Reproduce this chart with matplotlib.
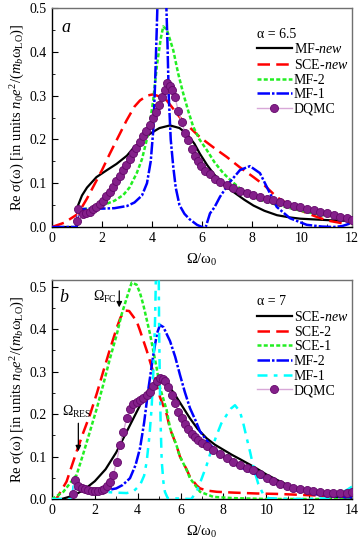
import matplotlib
matplotlib.use("Agg")
import matplotlib.pyplot as plt
from matplotlib.ticker import MultipleLocator

plt.rcParams['font.family'] = ['Liberation Serif', 'DejaVu Serif']
plt.rcParams['mathtext.fontset'] = 'custom'
plt.rcParams['mathtext.rm'] = 'Liberation Serif'
plt.rcParams['mathtext.it'] = 'Liberation Serif:italic'
plt.rcParams['font.size'] = 10

# ---- panel a, alpha = 6.5 ----
a_mfnew_x = [0, 0.98, 1.04, 1.2, 1.4, 1.78, 2.2, 2.58, 3.0, 3.25, 3.6, 3.92, 4.3, 4.72, 5.1, 5.39, 5.7, 5.92, 6.2, 6.46, 6.8, 7.26, 7.7, 8.06, 8.5, 9.0, 9.5, 9.93, 10.6, 11.27, 12]
a_mfnew_y = [0, 0, 0.049, 0.072, 0.09, 0.114, 0.13, 0.144, 0.163, 0.18, 0.197, 0.213, 0.226, 0.232, 0.226, 0.213, 0.19, 0.167, 0.142, 0.122, 0.1, 0.08, 0.062, 0.049, 0.037, 0.027, 0.022, 0.019, 0.017, 0.015, 0.014]

a_scenew_x = [0, 0.5, 1.04, 1.4, 1.78, 2.0, 2.31, 2.6, 2.98, 3.3, 3.52, 3.8, 4.05, 4.3, 4.59, 4.85, 5.12, 5.5, 5.92, 6.5, 6.99, 7.5, 8.06, 8.5, 9.0, 9.5, 9.93, 10.5, 11.0, 11.67, 12]
a_scenew_y = [0, 0.01, 0.03, 0.065, 0.106, 0.13, 0.167, 0.2, 0.243, 0.275, 0.289, 0.3, 0.303, 0.298, 0.289, 0.27, 0.25, 0.228, 0.205, 0.18, 0.16, 0.137, 0.114, 0.095, 0.068, 0.05, 0.038, 0.025, 0.015, 0.008, 0.011]

a_mf2_x = [1.0, 1.5, 1.9, 2.05, 2.5, 2.85, 3.1, 3.39, 3.6, 3.79, 3.95, 4.05, 4.2, 4.35, 4.45, 4.6, 4.85, 5.05, 5.25, 5.45, 5.65, 5.9, 6.19, 6.5, 6.85, 7.2, 7.52, 7.92, 8.32, 8.85, 9.52, 10.2, 10.85, 11.4, 11.92]
a_mf2_y = [0.04, 0.042, 0.044, 0.05, 0.06, 0.073, 0.09, 0.123, 0.155, 0.199, 0.25, 0.29, 0.37, 0.43, 0.458, 0.45, 0.404, 0.35, 0.305, 0.265, 0.229, 0.2, 0.176, 0.148, 0.123, 0.104, 0.088, 0.073, 0.062, 0.053, 0.043, 0.034, 0.027, 0.023, 0.02]

a_mf1_x = [0, 0.98, 1.05, 1.5, 2.0, 2.5, 3.0, 3.3, 3.6, 3.8, 3.95, 4.05, 4.12, 4.19, 4.24, 4.55, 4.62, 4.67, 4.75, 4.85, 4.95, 5.1, 5.3, 5.5, 5.8, 6.0, 6.15, 6.32, 6.5, 6.72, 7.12, 7.52, 7.92, 8.32, 8.65, 8.99, 9.52, 10.19, 10.8, 11.25, 11.6, 11.92]
a_mf1_y = [0, 0, 0.04, 0.042, 0.042, 0.043, 0.048, 0.056, 0.072, 0.1, 0.15, 0.22, 0.32, 0.45, 0.55, 0.55, 0.42, 0.3, 0.2, 0.138, 0.09, 0.05, 0.03, 0.018, 0.005, 0.0, 0.0, 0.031, 0.045, 0.069, 0.103, 0.13, 0.139, 0.123, 0.085, 0.046, 0.02, 0.005, 0.001, 0.0, 0.002, 0.008]

a_dqmc_x = [1.0, 1.04, 1.24, 1.38, 1.51, 1.65, 1.78, 1.92, 2.05, 2.18, 2.32, 2.45, 2.58, 2.72, 2.85, 2.98, 3.12, 3.25, 3.38, 3.52, 3.65, 3.78, 3.92, 4.05, 4.18, 4.3, 4.42, 4.52, 4.62, 4.72, 4.82, 4.92, 5.05, 5.19, 5.32, 5.45, 5.59, 5.72, 5.85, 5.98, 6.12, 6.32, 6.52, 6.72, 6.99, 7.26, 7.53, 7.79, 8.06, 8.33, 8.6, 8.86, 9.13, 9.4, 9.67, 9.93, 10.2, 10.47, 10.74, 11.0, 11.27, 11.54, 11.8, 12.0]
a_dqmc_y = [0.013, 0.04, 0.03, 0.031, 0.034, 0.04, 0.046, 0.052, 0.06, 0.07, 0.08, 0.092, 0.104, 0.117, 0.13, 0.142, 0.155, 0.168, 0.181, 0.194, 0.207, 0.22, 0.234, 0.248, 0.262, 0.278, 0.296, 0.313, 0.328, 0.323, 0.313, 0.296, 0.266, 0.239, 0.215, 0.198, 0.179, 0.162, 0.15, 0.14, 0.129, 0.12, 0.11, 0.103, 0.095, 0.088, 0.082, 0.077, 0.073, 0.069, 0.065, 0.061, 0.057, 0.053, 0.049, 0.046, 0.042, 0.038, 0.034, 0.031, 0.027, 0.023, 0.02, 0.017]

# ---- panel b, alpha = 7 ----
b_scenew_x = [0, 0.45, 1.0, 1.5, 2.0, 2.5, 3.0, 3.5, 4.0, 4.4, 4.75, 5.1, 5.4, 5.66, 6.0, 6.44, 6.8, 7.22, 7.6, 8.0, 8.4, 8.77, 9.2, 9.55, 10.0, 10.5, 11.0, 11.5, 11.9, 12.5, 13.0, 13.5, 14.0]
b_scenew_y = [0, 0, 0.008, 0.022, 0.042, 0.07, 0.11, 0.16, 0.21, 0.25, 0.272, 0.275, 0.268, 0.252, 0.225, 0.19, 0.165, 0.143, 0.128, 0.116, 0.104, 0.094, 0.082, 0.072, 0.058, 0.045, 0.033, 0.023, 0.017, 0.01, 0.006, 0.004, 0.003]

b_sce2_x = [0, 0.2, 0.68, 1.15, 1.45, 1.77, 2.1, 2.39, 2.7, 3.02, 3.2, 3.41, 3.6, 3.95, 4.1, 4.42, 4.75, 5.04, 5.35, 5.51, 5.82, 5.97, 6.28, 6.44, 6.75, 6.91, 7.22, 7.69, 8.5, 9.55, 10.5, 11.5, 12.5, 13.5, 14.0]
b_sce2_y = [0, 0.0, 0.041, 0.112, 0.155, 0.198, 0.25, 0.3, 0.352, 0.403, 0.428, 0.444, 0.443, 0.419, 0.398, 0.35, 0.295, 0.24, 0.2, 0.165, 0.125, 0.1, 0.07, 0.052, 0.032, 0.025, 0.02, 0.017, 0.015, 0.013, 0.012, 0.01, 0.008, 0.006, 0.005]

b_sce1_x = [0, 0.53, 1.15, 1.45, 1.77, 2.1, 2.39, 2.7, 3.02, 3.25, 3.49, 3.72, 3.95, 4.11, 4.26, 4.57, 4.88, 5.04, 5.35, 5.51, 5.82, 5.97, 6.28, 6.44, 6.91, 7.53, 8.5, 10.0, 12.0, 14.0]
b_sce1_y = [0, 0.017, 0.057, 0.105, 0.159, 0.215, 0.269, 0.33, 0.387, 0.435, 0.474, 0.51, 0.505, 0.485, 0.458, 0.39, 0.31, 0.262, 0.21, 0.167, 0.125, 0.1, 0.069, 0.049, 0.017, 0.005, 0.002, 0.0, 0.0, 0.0]

b_mf2_x = [1.0, 1.5, 2.0, 2.5, 3.0, 3.3, 3.64, 3.9, 4.11, 4.3, 4.5, 4.73, 4.9, 5.04, 5.2, 5.51, 5.75, 5.97, 6.2, 6.44, 6.7, 6.91, 7.37, 8.0, 8.5, 9.0, 9.55, 10.02, 10.5, 11.1, 11.7, 12.35, 13.0, 13.44, 14.0]
b_mf2_y = [0.025, 0.022, 0.02, 0.02, 0.025, 0.033, 0.049, 0.08, 0.12, 0.18, 0.26, 0.34, 0.39, 0.41, 0.405, 0.372, 0.335, 0.293, 0.252, 0.214, 0.185, 0.159, 0.128, 0.1, 0.083, 0.07, 0.057, 0.045, 0.035, 0.025, 0.017, 0.011, 0.007, 0.005, 0.004]

b_mf1_x = [0, 0.95, 1.0, 1.5, 2.0, 2.39, 3.0, 3.49, 3.8, 4.11, 4.3, 4.42, 4.55, 4.65, 4.73, 4.81, 4.86, 4.98, 5.0, 5.04, 5.08, 5.12, 5.2, 5.27, 5.4, 6.5, 6.75, 7.0, 7.22, 7.45, 7.69, 7.9, 8.15, 8.35, 8.54, 8.77, 8.92, 9.08, 9.25, 9.4, 9.63, 9.85, 10.1, 11.0, 12.0, 12.97, 13.4, 13.75, 14.0]
b_mf1_y = [0, 0, 0.03, 0.024, 0.02, 0.017, 0.015, 0.014, 0.018, 0.033, 0.055, 0.088, 0.15, 0.215, 0.3, 0.42, 0.55, 0.55, 0.4, 0.25, 0.16, 0.09, 0.04, 0.017, 0.002, 0.0, 0.017, 0.05, 0.08, 0.118, 0.151, 0.178, 0.198, 0.213, 0.221, 0.206, 0.18, 0.145, 0.11, 0.075, 0.035, 0.012, 0.002, 0.0, 0.0, 0.002, 0.012, 0.021, 0.029]

b_dqmc_x = [1.0, 1.07, 1.22, 1.39, 1.55, 1.7, 1.85, 2.0, 2.16, 2.32, 2.45, 2.58, 2.72, 2.86, 3.02, 3.17, 3.33, 3.49, 3.64, 3.8, 3.96, 4.11, 4.26, 4.42, 4.57, 4.73, 4.88, 5.04, 5.16, 5.27, 5.43, 5.58, 5.74, 5.89, 6.05, 6.2, 6.36, 6.52, 6.68, 6.83, 7.0, 7.22, 7.53, 7.84, 8.15, 8.46, 8.77, 9.08, 9.4, 9.71, 10.02, 10.33, 10.64, 10.96, 11.27, 11.58, 11.89, 12.2, 12.5, 12.82, 13.13, 13.44, 13.75, 14.0]
b_dqmc_y = [0.012, 0.045, 0.03, 0.025, 0.023, 0.021, 0.02, 0.019, 0.02, 0.021, 0.024, 0.03, 0.04, 0.057, 0.088, 0.128, 0.159, 0.19, 0.212, 0.223, 0.229, 0.233, 0.237, 0.245, 0.252, 0.266, 0.277, 0.284, 0.283, 0.277, 0.265, 0.246, 0.226, 0.206, 0.19, 0.176, 0.164, 0.153, 0.145, 0.139, 0.132, 0.126, 0.116, 0.106, 0.096, 0.088, 0.08, 0.074, 0.068, 0.058, 0.049, 0.042, 0.036, 0.031, 0.027, 0.024, 0.021, 0.018, 0.016, 0.015, 0.014, 0.014, 0.015, 0.016]

ylab = r"Re σ(ω) [in units $n_0e^2/(m_b\mathrm{\omega}_{\mathrm{LO}})$]"
xlab = r"Ω/ω$_0$"

fig = plt.figure(figsize=(3.6, 5.44), dpi=100)
ax1 = fig.add_axes([0.1444, 0.5827, 0.8333, 0.4025])
ax2 = fig.add_axes([0.1444, 0.0827, 0.8333, 0.4026])

green = '#22ee22'
dq = dict(color='#d8a8d8', lw=1.0, marker='o', ms=5.8, mfc='#84208a', mec='#64086a', mew=0.6)

ax1.plot(a_mfnew_x, a_mfnew_y, color='black', lw=1.6, label=r"MF-$\it{new}$", zorder=3)
ax1.plot(a_scenew_x, a_scenew_y, color='red', lw=1.8, dashes=(5, 2.5), label=r"SCE-$\it{new}$", zorder=3)
ax1.plot(a_mf2_x, a_mf2_y, color=green, lw=1.8, dashes=(1.6, 0.9), label="MF-2", zorder=3)
ax1.plot(a_mf1_x, a_mf1_y, color='blue', lw=1.8, dashes=(5, 0.8, 1, 0.8), label="MF-1", zorder=3)
ax1.plot(a_dqmc_x, a_dqmc_y, label="DQMC", zorder=4, **dq)
ax1.set_xlim(0, 12)
ax1.set_ylim(0, 0.5)
ax1.xaxis.set_major_locator(MultipleLocator(2))
ax1.xaxis.set_minor_locator(MultipleLocator(1))
ax1.yaxis.set_major_locator(MultipleLocator(0.1))
ax1.yaxis.set_minor_locator(MultipleLocator(0.05))
ax1.text(0.57, 0.455, "a", fontsize=13, style='italic', va='center', ha='center')
leg1 = ax1.legend(title="α = 6.5", loc='upper right', bbox_to_anchor=(1.02, 0.955), frameon=False,
                  fontsize=10, title_fontsize=10, handlelength=2.5, handletextpad=0.15,
                  labelspacing=0.12, borderpad=0.2)
leg1._legend_box.align = 'left'

ax2.plot(b_scenew_x, b_scenew_y, color='black', lw=1.6, label=r"SCE-$\it{new}$", zorder=3)
ax2.plot(b_sce2_x, b_sce2_y, color='red', lw=1.8, dashes=(5, 2.5), label="SCE-2", zorder=3)
ax2.plot(b_sce1_x, b_sce1_y, color=green, lw=1.8, dashes=(1.6, 0.9), label="SCE-1", zorder=3)
ax2.plot(b_mf2_x, b_mf2_y, color='blue', lw=1.8, dashes=(5, 0.8, 1, 0.8), label="MF-2", zorder=3)
ax2.plot(b_mf1_x, b_mf1_y, color='cyan', lw=1.8, dashes=(4, 2.5, 1.5, 2.5), label="MF-1", zorder=3)
ax2.plot(b_dqmc_x, b_dqmc_y, label="DQMC", zorder=4, **dq)
ax2.set_xlim(0, 14)
ax2.set_ylim(0, 0.516)
ax2.xaxis.set_major_locator(MultipleLocator(2))
ax2.xaxis.set_minor_locator(MultipleLocator(1))
ax2.yaxis.set_major_locator(MultipleLocator(0.1))
ax2.yaxis.set_minor_locator(MultipleLocator(0.05))
ax2.text(0.55, 0.475, "b", fontsize=13, style='italic', va='center', ha='center')
ax2.annotate("", xy=(3.14, 0.445), xytext=(3.14, 0.497),
             arrowprops=dict(arrowstyle='-|>', color='black', lw=0.9, mutation_scale=8))
ax2.text(1.9, 0.475, r"Ω$_{\mathrm{FC}}$", fontsize=10, va='center')
ax2.annotate("", xy=(1.23, 0.106), xytext=(1.23, 0.185),
             arrowprops=dict(arrowstyle='-|>', color='black', lw=0.9, mutation_scale=8))
ax2.text(0.45, 0.205, r"Ω$_{\mathrm{RES}}$", fontsize=10, va='center')
leg2 = ax2.legend(title="α = 7", loc='upper right', bbox_to_anchor=(1.02, 0.975), frameon=False,
                  fontsize=10, title_fontsize=10, handlelength=2.5, handletextpad=0.15,
                  labelspacing=0.12, borderpad=0.2)
leg2._legend_box.align = 'left'

for ax in (ax1, ax2):
    ax.tick_params(which='both', direction='in', top=False, right=False, labelsize=10)
    ax.tick_params(which='major', length=4)
    ax.tick_params(which='minor', length=2)
    ax.spines['top'].set_color('#707070')
    ax.spines['right'].set_color('#707070')
    for s in ax.spines.values():
        s.set_linewidth(1.0)
    ax.set_ylabel(ylab, fontsize=10.5, labelpad=2)
    ax.set_xlabel(xlab, fontsize=10.5, labelpad=5)

plt.savefig("out.png", dpi=100)
